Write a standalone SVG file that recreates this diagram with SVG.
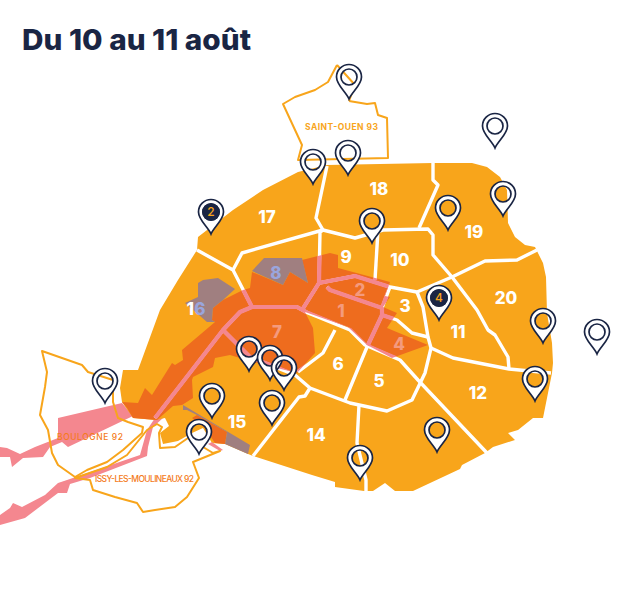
<svg xmlns="http://www.w3.org/2000/svg" width="640" height="596" viewBox="0 0 640 596">
<style>
text{font-family:"Inter","Liberation Sans",sans-serif}
.title{font-size:29px;font-weight:800;fill:#1A2544}
.n{font-size:17px;font-weight:800;fill:#fff;text-anchor:middle}
.r{fill:#F49A7E}
.b{fill:#9AA5DC}
.ol{fill:none;stroke:#F8A51B;stroke-width:2;stroke-linejoin:round}
.ln{fill:none;stroke-width:3.4;stroke-linejoin:round;stroke-linecap:butt}
.lab{font-size:8.5px;font-weight:500;fill:#F8A51B}
.pin{fill:#fff;fill-rule:evenodd;stroke:#1A2544;stroke-width:1.7}
.pn{font-size:12px;font-weight:500;fill:#F8A51B;text-anchor:middle}
</style>
<defs>
<path id="river" d="M302,260 330,253 338,255 338,268 390,282 385,296 390,297 383,307 397,313 387,328 428,345 392,358 367,345 348,327 305,312 313,328 315,353 297,373 257,363 230,355 215,358 213,367 193,377 192,380 193,398 182,405 173,406 157,420 133,418 127,408 122,402 138,403 145,388 152,395 172,363 175,365 183,360 182,350 215,322 212,320 213,308 223,300 243,290 250,288 252,272 283,285 290,272 308,283Z"/>
<clipPath id="rc"><use href="#river"/></clipPath>
<g id="lines">
<path d="M197,250 233,270 252,307 297,307 308,313 350,330 365,345 400,360 418,380 487,453"/>
<path d="M233,270 242,253 323,230 355,238 383,230 428,229 433,235 433,255 452,277 477,310 488,330 495,335 508,357 509,369"/>
<path d="M327,166 316,218 323,230 320,232 319,283 302,310"/>
<path d="M433,163 433,180 438,185 419,228"/>
<path d="M378,230 375,280"/>
<path d="M319,283 355,276 390,287 417,292 452,277 485,261 517,260 537,250"/>
<path d="M327,287 330,290 382,308 390,287"/>
<path d="M382,308 382,315 367,347 345,400"/>
<path d="M382,315 397,320 412,333 428,337"/>
<path d="M417,292 423,307 428,337 431,348 425,373 412,400 387,411 350,403 310,388 295,375 250,357 223,330"/>
<path d="M431,348 453,358 509,369 551,373"/>
<path d="M335,330 323,353 298,372"/>
<path d="M310,388 305,396 299,397 253,456"/>
<path d="M359,405 357,443 366,480 366,491"/>
<path d="M252,307 240,312 223,330 155,418"/>
</g>
<path id="p" class="pin" d="M0,22C-3,15-12.5,8-12.5,0A12.5,12.5 0 1 1 12.5,0C12.5,8 3,15 0,22ZM-8,0A8,8 0 1 0 8,0A8,8 0 1 0-8,0Z"/>
</defs>

<g id="saint-ouen"><path class="ol" d="M337,65 328,82 315,90 295,97 283,104 302,145 298,160 388,158 387,118 378,115 375,103 367,104 349,101 M337,65 355,85 349,101"/></g>

<g id="rivers-out">
<path fill="#F4878F" d="M58,418 122,403 133,416 68,447 62,442 50,447 43,457 23,458 12,467 10,457 0,457 0,447 7,448 20,454 35,447 58,438Z"/>
<path fill="#F4878F" d="M163,418 155,418 147,430 140,455 67,480 58,483 45,495 22,507 13,503 10,508 0,515 0,525 25,518 58,493 67,493 70,484 90,478 147,456 148,447 153,427Z"/>
</g>

<g id="paris">
<path fill="#F8A51B" d="M197,250 198,237 233,210 263,190 298,172 327,165 433,163 472,163 487,167 500,177 507,190 508,223 515,237 525,245 535,247 543,263 546,277 547,313 552,343 553,363 552,373 543,418 533,418 518,430 508,433 515,440 493,447 485,453 462,465 460,469 413,491 395,491 385,483 373,491 364,491 335,487 335,482 312,475 253,456 248,454 225,444 212,443 203,428 192,433 178,441 163,444 160,433 169,426 165,418 155,420 133,418 122,402 120,388 123,370 138,370 160,310 178,280Z"/>
<path fill="#EE6C1E" d="M197,415 227,432 225,444 215,443 205,428 192,418Z"/>
<path fill="#F4878F" d="M212,442 223,450 220,451 208,444Z"/>
<use href="#river" fill="#EE6C1E"/>
<path fill="#A07F80" d="M252,271 264,258 302,258 308,283 290,272 283,285Z"/>
<path fill="#A07F80" d="M185,303 198,297 198,283 203,280 218,278 235,289 223,300 213,308 212,320 215,322 207,322Z"/>
<path fill="#A07F80" d="M183,405 250,445 248,454 225,444 227,432 197,415 187,410 183,410Z"/>
</g>

<g id="boundaries">
<use href="#lines" class="ln" stroke="#fff"/>
<g clip-path="url(#rc)"><use href="#lines" class="ln" stroke="#F4878F" style="stroke-width:4.2"/></g>
</g>

<g id="outer-communes">
<path class="ol" d="M42,351 82,365 88,372 113,380 113,402 118,418 128,422 143,427 142,433 123,450 107,462 87,470 75,477 58,465 52,453 48,430 40,415 45,387 47,372Z"/>
<path class="ol" d="M75,478 107,467 127,455 147,430 157,424 162,427 159,433 160,448 175,447 188,438 213,453 220,451 193,462 199,478 187,497 175,507 155,510 143,512 137,503 115,497 93,490 90,480Z"/>
</g>

<g id="labels">
<text class="title" x="22" y="50" textLength="229" lengthAdjust="spacingAndGlyphs">Du 10 au 11 août</text>
<text class="n" x="379" y="195">18</text>
<text class="n" x="267" y="223">17</text>
<text class="n" x="474" y="238">19</text>
<text class="n" x="346" y="263">9</text>
<text class="n" x="400" y="266">10</text>
<text class="n" x="506" y="304">20</text>
<text class="n b" x="276" y="279">8</text>
<text class="n r" x="360" y="296">2</text>
<text class="n" x="405" y="312">3</text>
<text class="n" x="196" y="315">1<tspan class="b">6</tspan></text>
<text class="n r" x="341" y="317">1</text>
<text class="n" x="458" y="338">11</text>
<text class="n r" x="277" y="338">7</text>
<text class="n r" x="399" y="350">4</text>
<text class="n" x="338" y="370">6</text>
<text class="n" x="379" y="387">5</text>
<text class="n" x="478" y="399">12</text>
<text class="n" x="237" y="428">15</text>
<text class="n" x="316" y="441">14</text>
<text class="lab" x="305" y="130" textLength="73" style="font-weight:700">SAINT-OUEN 93</text>
<text class="lab" x="57" y="440" textLength="66" style="fill:#F47B20">BOULOGNE 92</text>
<text class="lab" x="95" y="482" textLength="99" style="fill:#F47B20">ISSY-LES-MOULINEAUX 92</text>
</g>

<g id="pin-1" transform="translate(349,77)"><use href="#p"/></g>
<g id="pin-2" transform="translate(495,126)"><use href="#p"/></g>
<g id="pin-3" transform="translate(348,153)"><use href="#p"/></g>
<g id="pin-4" transform="translate(313,162)"><use href="#p"/></g>
<g id="pin-5" transform="translate(372,221)"><use href="#p"/></g>
<g id="pin-6" transform="translate(448,208)"><use href="#p"/></g>
<g id="pin-7" transform="translate(503,194)"><use href="#p"/></g>
<g id="pin-8" transform="translate(211,212)"><use href="#p"/><circle r="9" fill="#1A2544"/><text class="pn" y="4">2</text></g>
<g id="pin-9" transform="translate(439,298)"><use href="#p"/><circle r="9" fill="#1A2544"/><text class="pn" y="4">4</text></g>
<g id="pin-10" transform="translate(543,321)"><use href="#p"/></g>
<g id="pin-11" transform="translate(597,332)"><use href="#p"/></g>
<g id="pin-12" transform="translate(535,379)"><use href="#p"/></g>
<g id="pin-13" transform="translate(437,430)"><use href="#p"/></g>
<g id="pin-14" transform="translate(360,458)"><use href="#p"/></g>
<g id="pin-15" transform="translate(272,403)"><use href="#p"/></g>
<g id="pin-16" transform="translate(212,396)"><use href="#p"/></g>
<g id="pin-17" transform="translate(199,432)"><use href="#p"/></g>
<g id="pin-18" transform="translate(105,381)"><use href="#p"/></g>
<g id="pin-19" transform="translate(249,349)"><use href="#p"/></g>
<g id="pin-20" transform="translate(270,358)"><use href="#p"/></g>
<g id="pin-21" transform="translate(284,368)"><use href="#p"/></g>
</svg>
